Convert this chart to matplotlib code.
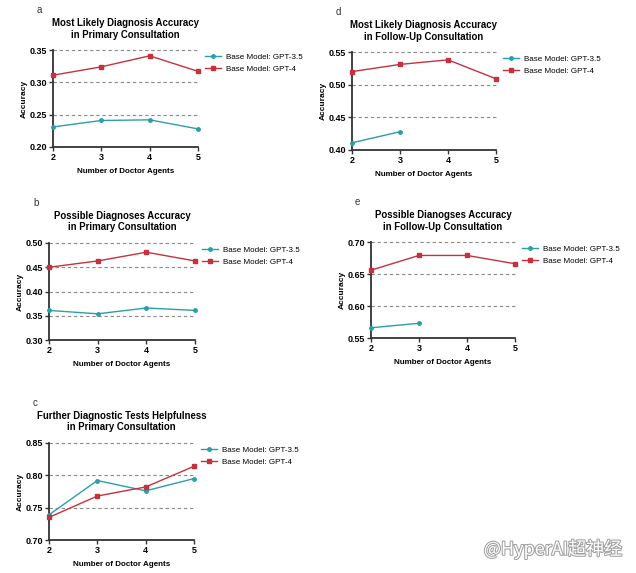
import matplotlib
matplotlib.use("Agg")
import matplotlib.pyplot as plt
import matplotlib.patheffects as pe

plt.rcParams['font.family'] = ['Liberation Sans', 'DejaVu Sans']

agents = [2, 3, 4, 5]
series_names = ["Base Model: GPT-3.5", "Base Model: GPT-4"]

a_gpt35 = [0.231, 0.241, 0.242, 0.228]
a_gpt4 = [0.311, 0.324, 0.341, 0.317]
b_gpt35 = [0.361, 0.354, 0.366, 0.361]
b_gpt4 = [0.450, 0.463, 0.481, 0.463]
c_gpt35 = [0.739, 0.792, 0.776, 0.795]
c_gpt4 = [0.735, 0.768, 0.782, 0.814]
d_gpt35 = [0.411, 0.428]
d_gpt4 = [0.520, 0.531, 0.538, 0.509]
e_gpt35 = [0.566, 0.573]
e_gpt4 = [0.656, 0.679, 0.679, 0.666]

panels = [
    dict(label="a", title="Most Likely Diagnosis Accuracy\nin Primary Consultation",
         s35=a_gpt35, s4=a_gpt4, yticks=[0.20, 0.25, 0.30, 0.35],
         box=(53, 198, 50, 147)),
    dict(label="b", title="Possible Diagnoses Accuracy\nin Primary Consultation",
         s35=b_gpt35, s4=b_gpt4, yticks=[0.30, 0.35, 0.40, 0.45, 0.50],
         box=(49, 195, 243, 340)),
    dict(label="c", title="Further Diagnostic Tests Helpfulness\nin Primary Consultation",
         s35=c_gpt35, s4=c_gpt4, yticks=[0.70, 0.75, 0.80, 0.85],
         box=(49, 194, 443, 540)),
    dict(label="d", title="Most Likely Diagnosis Accuracy\nin Follow-Up Consultation",
         s35=d_gpt35, s4=d_gpt4, yticks=[0.40, 0.45, 0.50, 0.55],
         box=(352, 496, 52, 150)),
    dict(label="e", title="Possible Dianogses Accuracy\nin Follow-Up Consultation",
         s35=e_gpt35, s4=e_gpt4, yticks=[0.55, 0.60, 0.65, 0.70],
         box=(371, 515, 242, 338)),
]

W, H = 636, 573
fig = plt.figure(figsize=(W / 100, H / 100), dpi=100)

teal = "#2a9fa9"
red = "#c5313c"
spine_c = "#333333"

for p in panels:
    l, r, t, b = p["box"]
    ax = fig.add_axes([l / W, 1 - b / H, (r - l) / W, (b - t) / H])
    yt = p["yticks"]
    for y in yt[1:]:
        ax.axhline(y, color="#888888", lw=0.8, ls=(0, (3, 2.5)), zorder=0, clip_on=False)
    ax.plot(agents[:len(p["s35"])], p["s35"], color=teal, marker="o", ms=2.5,
            lw=1.0, label=series_names[0], clip_on=False, zorder=3)
    ax.plot(agents[:len(p["s4"])], p["s4"], color=red, marker="s", ms=2.8,
            lw=1.0, label=series_names[1], clip_on=False, zorder=3)
    ax.set_xlim(2, 5)
    ax.set_ylim(yt[0], yt[-1])
    ax.set_xticks(agents)
    ax.set_yticks(yt)
    ax.set_yticklabels([f"{v:.2f}" for v in yt], fontweight="bold", fontsize=6.5)
    ax.set_xticklabels([str(v) for v in agents], fontweight="bold", fontsize=6.5)
    for s in ["top", "right"]:
        ax.spines[s].set_visible(False)
    for s in ["left", "bottom"]:
        ax.spines[s].set_color(spine_c)
        ax.spines[s].set_linewidth(1.3)
    ax.tick_params(axis="both", direction="out", length=3, width=1.0, color=spine_c, pad=1.5)
    ax.set_ylabel("Accuracy", fontsize=6, fontweight="bold", labelpad=1)
    ax.set_xlabel("Number of Doctor Agents", fontsize=5.8, fontweight="bold", labelpad=4)
    ax.set_title(p["title"], fontsize=6.9, fontweight="bold", pad=9, linespacing=1.2)
    ax.legend(loc="upper left", bbox_to_anchor=((r + 3) / W, 1 - (t - 1) / H),
              bbox_transform=fig.transFigure, frameon=False, fontsize=5.8,
              handlelength=2.0, handletextpad=0.6, labelspacing=0.6, borderpad=0)
    fig.text((l - 16) / W, 1 - (t - 40) / H, p["label"], fontsize=7, color="#333333",
             ha="left", va="center")

fig.text(622 / W, 1 - 549 / H, "@HyperAI超神经", fontsize=13, color="white",
         ha="right", va="center",
         family=["Noto Sans CJK SC", "DejaVu Sans"],
         path_effects=[pe.withStroke(linewidth=1.5, foreground="#a0a0a0")])

fig.savefig("out.png", dpi=100, facecolor="white")
